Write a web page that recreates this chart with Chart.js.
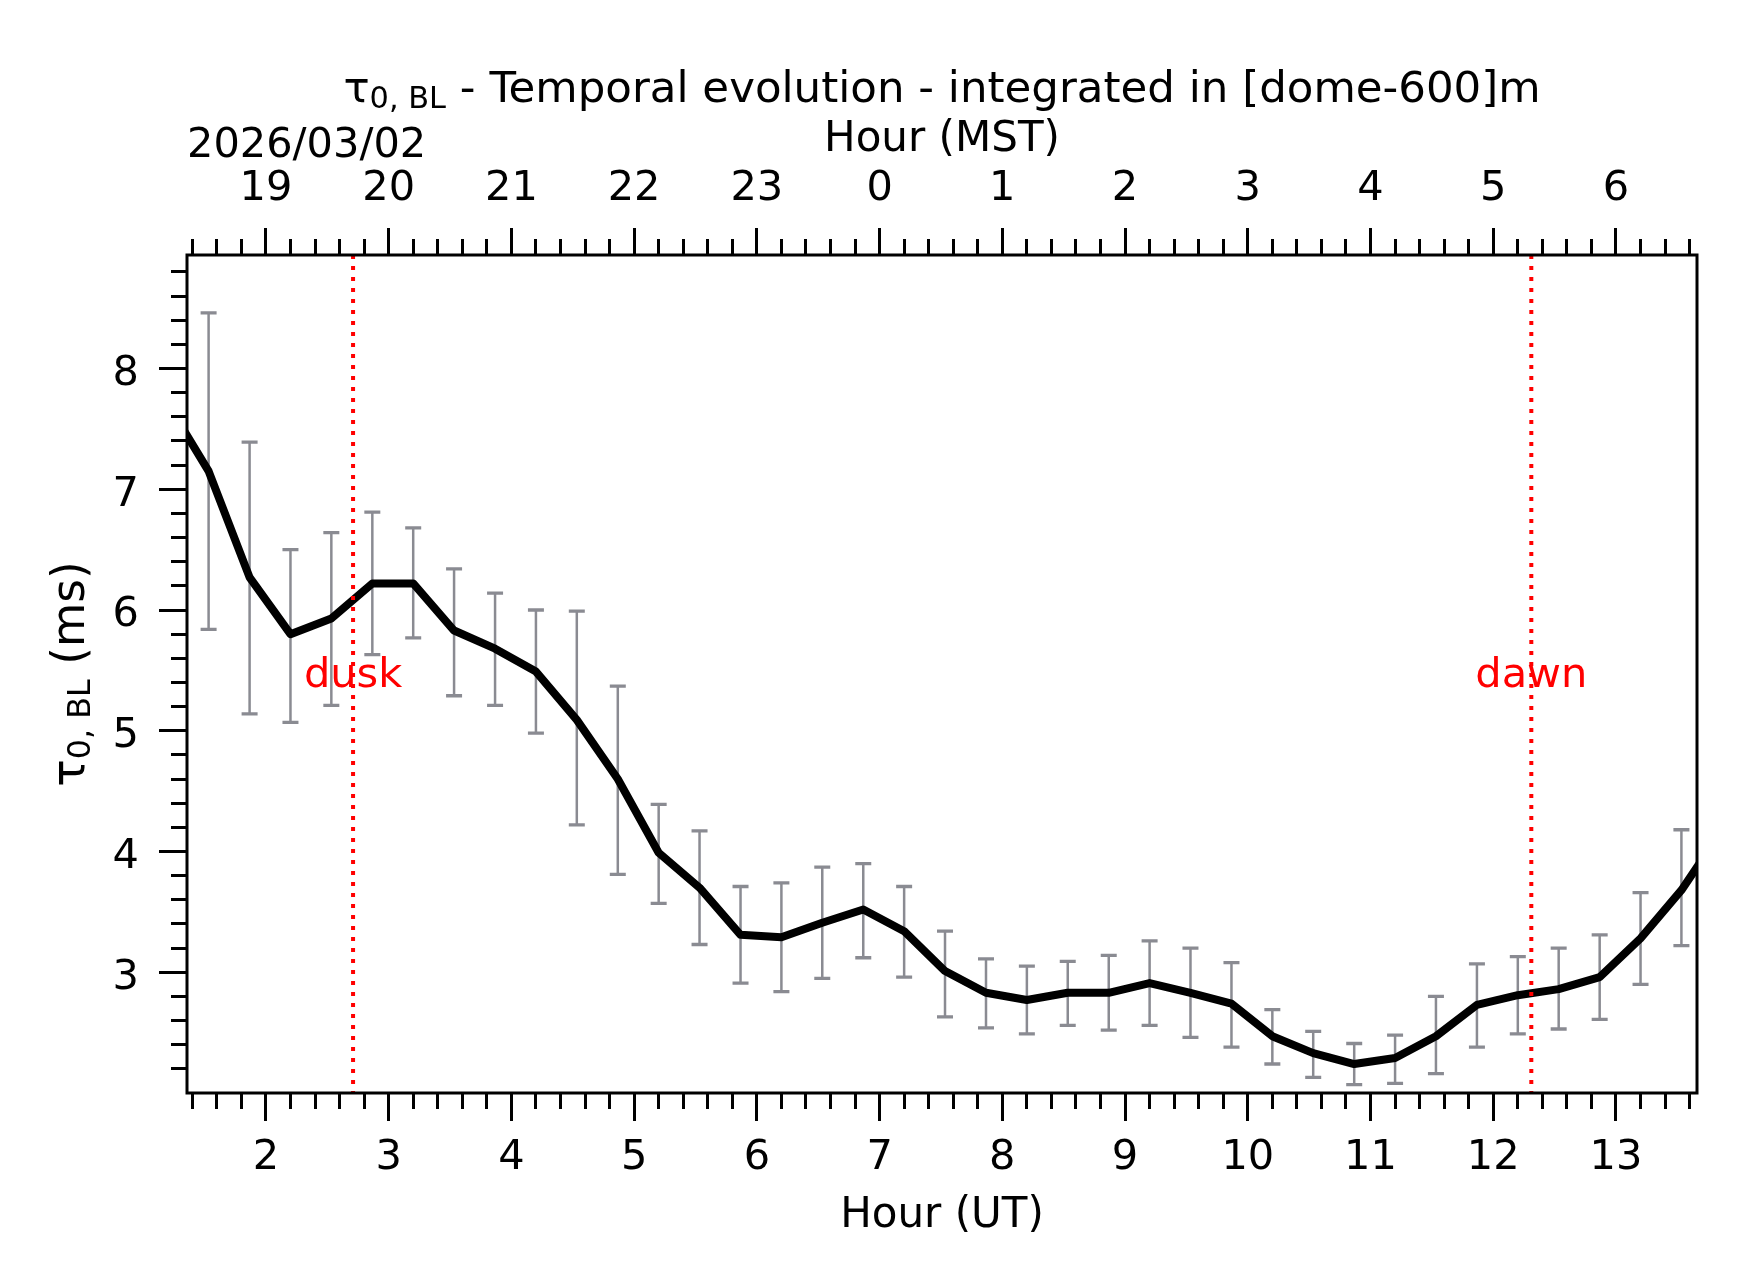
<!DOCTYPE html>
<html>
<head>
<meta charset="utf-8">
<title>tau0 BL - temporal evolution</title>
<script src="https://cdn.jsdelivr.net/npm/chart.js@4.4.1/dist/chart.umd.min.js"></script>
<style>
  html, body { margin: 0; padding: 0; background: #fff; }
  #wrap { width: 1742px; height: 1282px; }
</style>
</head>
<body>
<div id="wrap"><canvas id="tau-chart" width="1742" height="1282"></canvas></div>
<script>
// one sample every 20 min, hour in UT
const hoursUT = [
  1.2, 1.533, 1.867, 2.2, 2.533, 2.867, 3.2, 3.533, 3.867, 4.2,
  4.533, 4.867, 5.2, 5.533, 5.867, 6.2, 6.533, 6.867, 7.2, 7.533,
  7.867, 8.2, 8.533, 8.867, 9.2, 9.533, 9.867, 10.2, 10.533, 10.867,
  11.2, 11.533, 11.867, 12.2, 12.533, 12.867, 13.2, 13.533, 13.867
];
// tau0 in the boundary layer (ms)
const tau0 = [
  7.71, 7.15, 6.27, 5.80, 5.93, 6.22, 6.22, 5.83, 5.68, 5.49,
  5.09, 4.60, 3.99, 3.70, 3.31, 3.29, 3.41, 3.52, 3.34, 3.01,
  2.83, 2.77, 2.83, 2.83, 2.91, 2.83, 2.74, 2.47, 2.33, 2.24,
  2.29, 2.47, 2.73, 2.81, 2.86, 2.96, 3.28, 3.68, 4.18
];
// error bar ends (ms), null = off the plot
const tauLow = [
  null, 5.84, 5.14, 5.07, 5.21, 5.63, 5.77, 5.29, 5.21, 4.98,
  4.22, 3.81, 3.57, 3.23, 2.91, 2.84, 2.95, 3.12, 2.96, 2.63,
  2.54, 2.49, 2.56, 2.52, 2.56, 2.46, 2.38, 2.24, 2.13, 2.07,
  2.08, 2.16, 2.38, 2.49, 2.53, 2.61, 2.90, 3.22, null
];
const tauHigh = [
  null, 8.46, 7.39, 6.50, 6.64, 6.81, 6.68, 6.34, 6.14, 6.00,
  5.99, 5.37, 4.39, 4.17, 3.71, 3.74, 3.87, 3.90, 3.71, 3.34,
  3.11, 3.05, 3.09, 3.14, 3.26, 3.20, 3.08, 2.69, 2.51, 2.41,
  2.48, 2.80, 3.07, 3.13, 3.20, 3.31, 3.66, 4.18, null
];

const utTicks = [2, 3, 4, 5, 6, 7, 8, 9, 10, 11, 12, 13];
const mstLabels = ['19', '20', '21', '22', '23', '0', '1', '2', '3', '4', '5', '6'];
const tauTicks = [3, 4, 5, 6, 7, 8];
const sunEvents = [
  { label: 'dusk', hour: 2.71 },
  { label: 'dawn', hour: 12.31 }
];
const dateLabel = '2026/03/02';

const X_MIN = 1.357, X_MAX = 13.66;
const Y_MIN = 2.0, Y_MAX = 8.94;
const FONT = 'DejaVu Sans';
const FS = 41.5;        // tick labels, date, dusk/dawn
const FS_AXIS = 42;     // Hour (UT) / Hour (MST)
const FS_TITLE = 43.5;
const FS_YLABEL = 45.5;
const BASE_SHIFT = 5.5; // canvas 'middle' sits a bit above the digit centre
const ERR_COLOR = 'rgb(138,139,146)';

function minorTicks(from, to) {
  const out = [];
  for (let v = from; v <= to + 1e-9; v += 0.2) {
    const r = Math.round(v * 10) / 10;
    if (Math.abs(r - Math.round(r)) > 1e-6) out.push(r);
  }
  return out;
}
const utMinor = minorTicks(1.4, 13.6);
const tauMinor = minorTicks(2.2, 8.8);

const setTicks = values => scale => { scale.ticks = values.map(v => ({ value: v })); };
const fixedSize = size => scale => {
  if (scale.isHorizontal()) scale.height = size; else scale.width = size;
};
const tickFont = { family: FONT, size: FS, lineHeight: 1 };
const axisFont = { family: FONT, size: FS_AXIS, lineHeight: 1 };

function majorAxis(pos, min, max, values, size, tickLen, pad, extra, tickExtra) {
  return Object.assign({
    type: 'linear', position: pos, weight: 1, min: min, max: max,
    afterBuildTicks: setTicks(values),
    afterFit: fixedSize(size),
    grid: { drawOnChartArea: false, tickLength: tickLen, tickWidth: 3, tickColor: '#000' },
    border: { display: false },
    ticks: Object.assign({ autoSkip: false, maxRotation: 0, padding: pad, color: '#000', font: tickFont }, tickExtra || {})
  }, extra || {});
}
function minorAxis(pos, min, max, values, tickLen) {
  return {
    type: 'linear', position: pos, weight: 0, min: min, max: max,
    afterBuildTicks: setTicks(values),
    afterFit: fixedSize(0),
    grid: { drawOnChartArea: false, tickLength: tickLen, tickWidth: 3, tickColor: '#000' },
    border: { display: false },
    ticks: { display: false }
  };
}

// grey error bars under the line
const errorBars = {
  id: 'errorBars',
  beforeDatasetsDraw(chart) {
    const { ctx, chartArea: a, scales: { x, y } } = chart;
    ctx.save();
    ctx.beginPath();
    ctx.rect(a.left, a.top, a.right - a.left, a.bottom - a.top);
    ctx.clip();
    ctx.strokeStyle = ERR_COLOR;
    ctx.lineCap = 'butt';
    hoursUT.forEach((h, i) => {
      if (tauLow[i] == null) return;
      const px = x.getPixelForValue(h);
      const top = y.getPixelForValue(tauHigh[i]);
      const bot = y.getPixelForValue(tauLow[i]);
      ctx.lineWidth = 2.5;
      ctx.beginPath();
      ctx.moveTo(px, top);
      ctx.lineTo(px, bot);
      ctx.stroke();
      ctx.lineWidth = 3.3;
      ctx.beginPath();
      ctx.moveTo(px - 8, top); ctx.lineTo(px + 8, top);
      ctx.moveTo(px - 8, bot); ctx.lineTo(px + 8, bot);
      ctx.stroke();
    });
    ctx.restore();
  }
};

// dusk / dawn markers
const sunLines = {
  id: 'sunLines',
  afterDatasetsDraw(chart) {
    const { ctx, chartArea: a, scales: { x, y } } = chart;
    ctx.save();
    sunEvents.forEach(ev => {
      const px = x.getPixelForValue(ev.hour);
      ctx.strokeStyle = '#ff0000';
      ctx.lineWidth = 4;
      ctx.setLineDash([4, 7]);
      ctx.beginPath();
      ctx.moveTo(px, a.top);
      ctx.lineTo(px, a.bottom);
      ctx.stroke();
      ctx.setLineDash([]);
      ctx.fillStyle = '#ff0000';
      ctx.font = FS + 'px "' + FONT + '"';
      ctx.textAlign = 'center';
      ctx.textBaseline = 'middle';
      ctx.fillText(ev.label, px, y.getPixelForValue(5.5) + BASE_SHIFT);
    });
    ctx.restore();
  }
};

// text with a subscript part: [[text, isSub], ...]
function drawRich(ctx, parts, size, cx, baseline) {
  const big = size + 'px "' + FONT + '"';
  const small = (size * 0.7).toFixed(1) + 'px "' + FONT + '"';
  let total = 0;
  parts.forEach(p => { ctx.font = p[1] ? small : big; total += ctx.measureText(p[0]).width; });
  let xPos = cx - total / 2;
  ctx.textAlign = 'left';
  ctx.textBaseline = 'alphabetic';
  parts.forEach(p => {
    ctx.font = p[1] ? small : big;
    ctx.fillText(p[0], xPos, baseline + (p[1] ? 6 : 0));
    xPos += ctx.measureText(p[0]).width;
  });
}

const frameAndText = {
  id: 'frameAndText',
  afterDraw(chart) {
    const { ctx, chartArea: a } = chart;
    ctx.save();
    ctx.strokeStyle = '#000';
    ctx.lineWidth = 3;
    ctx.strokeRect(a.left, a.top, a.right - a.left, a.bottom - a.top);

    ctx.fillStyle = '#000';
    const cx = (a.left + a.right) / 2;
    drawRich(ctx, [['τ', false], ['0, BL', true], [' - Temporal evolution - integrated in [dome-600]m', false]], FS_TITLE, cx, 102);

    ctx.font = FS + 'px "' + FONT + '"';
    ctx.textAlign = 'left';
    ctx.textBaseline = 'alphabetic';
    ctx.fillText(dateLabel, a.left, 157);

    ctx.save();
    ctx.translate(84, (a.top + a.bottom) / 2);
    ctx.rotate(-Math.PI / 2);
    drawRich(ctx, [['τ', false], ['0, BL', true], [' (ms)', false]], FS_YLABEL, 0, 0);
    ctx.restore();
    ctx.restore();
  }
};

const points = hoursUT.map((h, i) => ({ x: h, y: tau0[i] }));

new Chart(document.getElementById('tau-chart'), {
  type: 'line',
  data: {
    datasets: [{
      label: 'tau0 BL',
      data: points,
      borderColor: '#000',
      borderWidth: 8,
      borderJoinStyle: 'round',
      pointRadius: 0,
      tension: 0,
      clip: 0
    }]
  },
  options: {
    responsive: false,
    devicePixelRatio: 1,
    animation: false,
    events: [],
    layout: { padding: { left: 0, right: 45, top: 0, bottom: 0 } },
    plugins: { legend: { display: false }, tooltip: { enabled: false } },
    scales: {
      x: majorAxis('bottom', X_MIN, X_MAX, utTicks, 189, 28, 16.5, {
        title: { display: true, text: 'Hour (UT)', color: '#000', font: axisFont, padding: { top: 0, bottom: 45 } }
      }),
      xMinor: minorAxis('bottom', X_MIN, X_MAX, utMinor, 16),
      xTop: majorAxis('top', X_MIN, X_MAX, utTicks, 255, 27, 18, {
        title: { display: true, text: 'Hour (MST)', color: '#000', font: axisFont, padding: { top: 119.5, bottom: 0 } }
      }, {
        callback: (value, index) => mstLabels[index]
      }),
      xTopMinor: minorAxis('top', X_MIN, X_MAX, utMinor, 16),
      y: majorAxis('left', Y_MIN, Y_MAX, tauTicks, 187, 28, 20, null, { labelOffset: BASE_SHIFT }),
      yMinor: minorAxis('left', Y_MIN, Y_MAX, tauMinor, 16)
    }
  },
  plugins: [errorBars, sunLines, frameAndText]
});
</script>
</body>
</html>
